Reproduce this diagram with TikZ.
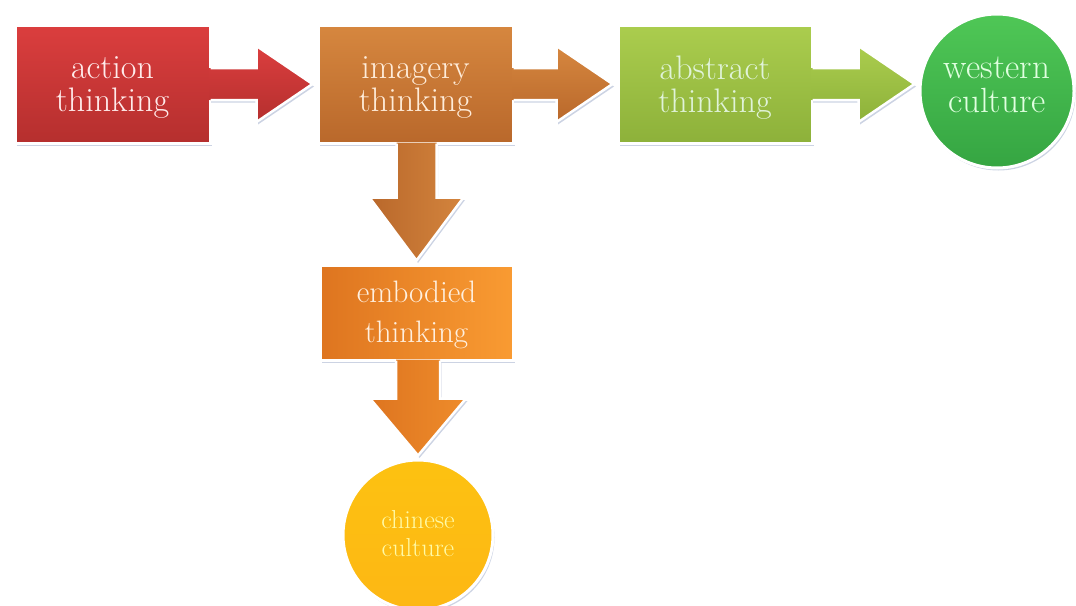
\documentclass[tikz,border=0pt]{standalone}
\usepackage{fontspec}
\usepackage{tikz}
\usetikzlibrary{calc}
\usetikzlibrary{shadows}
\tikzset{>=latex}
\definecolor{actT}{HTML}{DB3E3E}
\definecolor{actB}{HTML}{B52F2E}
\definecolor{imgT}{HTML}{D6873F}
\definecolor{imgB}{HTML}{B9682B}
\definecolor{absT}{HTML}{ABCD4E}
\definecolor{absB}{HTML}{8DB13A}
\definecolor{wstT}{HTML}{4FC756}
\definecolor{wstB}{HTML}{35A542}
\definecolor{embL}{HTML}{DE7520}
\definecolor{embR}{HTML}{F99B32}
\definecolor{chnC}{HTML}{FDB714}
\definecolor{shade}{HTML}{9AA8C8}
% two centred lines, moved up or down inside the node
\newcommand{\twoline}[3][0pt]{\raisebox{#1}[\height][\depth]{\begin{tabular}{@{}c@{}}#2\\#3\end{tabular}}}
\tikzset{
	thinkbox/.style={draw=white,line width=3pt,minimum width=195pt,minimum height=118pt,inner sep=0pt,
		font=\fontsize{34}{31}\selectfont,drop shadow={shadow xshift=1.5pt,shadow yshift=-2.5pt,fill=shade,opacity=.5}},
	culture/.style={circle,draw=white,line width=3pt,inner sep=0pt,
		drop shadow={shadow xshift=1.5pt,shadow yshift=-2.5pt,fill=shade,opacity=.5}},
	arrowbody/.style={drop shadow={shadow xshift=1.5pt,shadow yshift=-2.5pt,fill=shade,opacity=.5}},
	arrowline/.style={draw=white,line width=2.5pt,line join=miter}
}

\begin{document}
\begin{tikzpicture}[x=1pt,y=-1pt]
	\useasboundingbox (0,0) rectangle (1076,605);
	% boxes and circles
	\node[thinkbox,top color=actT,bottom color=actB,text=red!8!white] (act) at (112.5,84) {\twoline[-5pt]{action}{thinking}};
	\node[thinkbox,top color=imgT,bottom color=imgB,text=orange!15!white] (img) at (415.5,84) {\twoline[-5pt]{imagery}{thinking}};
	\node[thinkbox,minimum width=194pt,top color=absT,bottom color=absB,text=yellow!20!green!15!white] (abs) at (715,84) {\twoline[-5pt]{abstract}{thinking}};
	\node[culture,minimum size=154pt,top color=wstT,bottom color=wstB,text=green!12!white,
		font=\fontsize{35}{33}\selectfont] (wst) at (997,91) {\twoline[2pt]{western}{culture}};
	\node[thinkbox,minimum width=193pt,minimum height=95pt,left color=embL,right color=embR,text=orange!12!white,
		font=\fontsize{31}{40}\selectfont] (emb) at (416.5,312.5) {\twoline[-2pt]{embodied}{thinking}};
	\node[culture,minimum size=150pt,top color=chnC!85!yellow,bottom color=chnC,text=yellow!35!white,
		font=\fontsize{26}{28}\selectfont] (chn) at (418,535) {\twoline[-2pt]{chinese}{culture}};
	% horizontal arrows
	\foreach \a/\b in {act/img,img/abs,abs/wst}{
		\coordinate (\a tip) at (\a.east -| \b.west);
		\path[arrowbody,top color=\a T,bottom color=\a B] ($(\a.east)+(-2,-16)$) -- ($(\a tip)+(-60,-16)$) -- ($(\a tip)+(-60,-38)$)
			-- ($(\a tip)+(-4,0)$) -- ($(\a tip)+(-60,38)$) -- ($(\a tip)+(-60,16)$) -- ($(\a.east)+(-2,16)$) -- cycle;
		\draw[arrowline] ($(\a.east)+(-1,-16)$) -- ($(\a tip)+(-60,-16)$) -- ($(\a tip)+(-60,-38)$)
			-- ($(\a tip)+(-4,0)$) -- ($(\a tip)+(-60,38)$) -- ($(\a tip)+(-60,16)$) -- ($(\a.east)+(-1,16)$);
	}
	% vertical arrows
	\coordinate (imgtip) at (emb.north);
	\coordinate (imgtop) at (imgtip |- img.south);
	\path[arrowbody,left color=imgB,right color=imgT!92!imgB] ($(imgtop)+(-20,-2)$) -- ($(imgtip)+(-20,-66)$) -- ($(imgtip)+(-47,-66)$)
		-- ($(imgtip)+(0,-3)$) -- ($(imgtip)+(47,-66)$) -- ($(imgtip)+(20,-66)$) -- ($(imgtop)+(20,-2)$) -- cycle;
	\draw[arrowline] ($(imgtop)+(-20,-1)$) -- ($(imgtip)+(-20,-66)$) -- ($(imgtip)+(-47,-66)$)
		-- ($(imgtip)+(0,-3)$) -- ($(imgtip)+(47,-66)$) -- ($(imgtip)+(20,-66)$) -- ($(imgtop)+(20,-1)$);
	\coordinate (embtip) at (chn.north);
	\coordinate (embtop) at (embtip |- emb.south);
	\path[arrowbody,left color=embL,right color=embR!60!embL] ($(embtop)+(-22,-2)$) -- ($(embtip)+(-22,-60)$) -- ($(embtip)+(-48,-60)$)
		-- ($(embtip)+(0,-3)$) -- ($(embtip)+(48,-60)$) -- ($(embtip)+(22,-60)$) -- ($(embtop)+(22,-2)$) -- cycle;
	\draw[arrowline] ($(embtop)+(-22,-1)$) -- ($(embtip)+(-22,-60)$) -- ($(embtip)+(-48,-60)$)
		-- ($(embtip)+(0,-3)$) -- ($(embtip)+(48,-60)$) -- ($(embtip)+(22,-60)$) -- ($(embtop)+(22,-1)$);
\end{tikzpicture}
\end{document}
